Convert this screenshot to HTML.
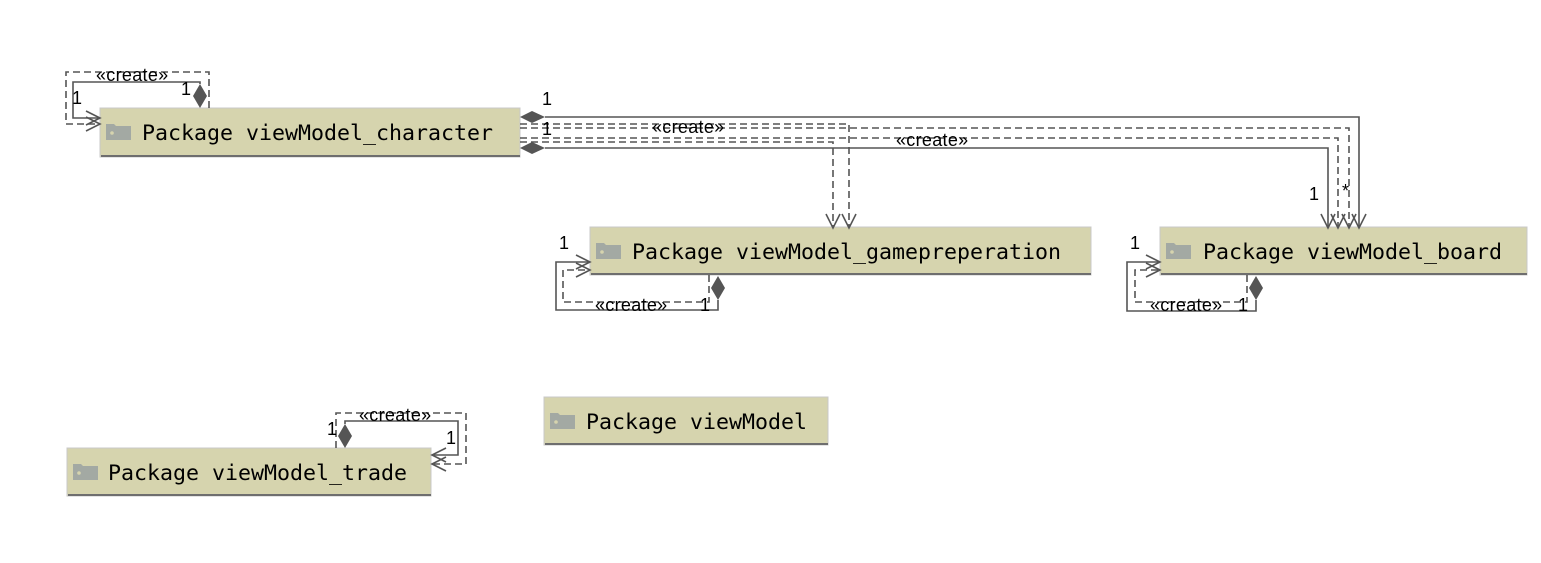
<!DOCTYPE html>
<html><head><meta charset="utf-8"><style>
html,body{margin:0;padding:0;background:#fff;}
svg{display:block;}
.b{fill:#d6d4ae;stroke:#c8c8c8;stroke-width:1;}
.sh{fill:#6e6e6e;}
.t{font-family:"DejaVu Sans Mono","Liberation Mono",monospace;font-size:21.6px;fill:#000;}
.l{font-family:"Liberation Sans",sans-serif;font-size:18px;fill:#000;letter-spacing:0.3px;}
.s{fill:none;stroke:#555;stroke-width:1.6;}
.d{fill:none;stroke:#555;stroke-width:1.6;stroke-dasharray:7,4;}
.a{fill:none;stroke:#555;stroke-width:1.6;}
.dm{fill:#555;}
</style></head><body>
<svg width="1541" height="563" viewBox="0 0 1541 563" xmlns="http://www.w3.org/2000/svg">
<defs>
<g id="fold"><path d="M0 2h8l2 2h15v14H0z" fill="#a3a9a3"/><circle cx="6" cy="11" r="1.8" fill="#d6d4ae"/></g>
</defs>
<g>
<rect class="b" x="100" y="108" width="420" height="49"/><rect class="sh" x="101" y="155" width="419" height="2"/>
<use href="#fold" x="106" y="122"/><text class="t" x="142" y="140">Package viewModel_character</text>

<rect class="b" x="590" y="227" width="501" height="48"/><rect class="sh" x="591" y="273" width="500" height="2"/>
<use href="#fold" x="596" y="241"/><text class="t" x="632" y="259">Package viewModel_gamepreperation</text>

<rect class="b" x="1160" y="227" width="367" height="48"/><rect class="sh" x="1161" y="273" width="366" height="2"/>
<use href="#fold" x="1166" y="241"/><text class="t" x="1203" y="259">Package viewModel_board</text>

<rect class="b" x="544" y="397" width="284" height="48"/><rect class="sh" x="545" y="443" width="283" height="2"/>
<use href="#fold" x="550" y="411"/><text class="t" x="586" y="429">Package viewModel</text>

<rect class="b" x="67" y="448" width="364" height="48"/><rect class="sh" x="68" y="494" width="363" height="2"/>
<use href="#fold" x="73" y="462"/><text class="t" x="108" y="480">Package viewModel_trade</text>
</g>

<path class="s" d="M200 84V82H73V118H100"/>
<path class="d" d="M209 108V72H66V124H100"/>
<path class="a" d="M86 111L100 118L86 125M86 117L100 124L86 131"/>
<path class="dm" d="M200 84L207 96L200 108L193 96z"/>
<text class="l" x="96" y="81">«create»</text>
<text class="l" x="72" y="104">1</text>
<text class="l" x="181" y="95">1</text>

<path class="s" d="M545 117H1359V228"/>
<path class="dm" d="M520 117L532 111L545 117L532 123z"/>
<path class="d" d="M520 124H849V228"/>
<path class="d" d="M520 128H1349V228"/>
<path class="d" d="M520 138H1338V228"/>
<path class="d" d="M520 142H833V228"/>
<path class="s" d="M545 148H1328V228"/>
<path class="dm" d="M520 148L532 142L545 148L532 154z"/>
<path class="a" d="M826 214L833 228L840 214M842 214L849 228L856 214"/>
<path class="a" d="M1321 214L1328 228L1335 214M1331 214L1338 228L1345 214M1342 214L1349 228L1356 214M1352 214L1359 228L1366 214"/>
<text class="l" x="652" y="133">«create»</text>
<text class="l" x="896" y="146">«create»</text>
<text class="l" x="542" y="105">1</text>
<text class="l" x="542" y="135">1</text>
<text class="l" x="1309" y="200">1</text>
<text class="l" x="1342" y="197">*</text>

<path class="s" d="M718 300V310H556V262H590"/>
<path class="d" d="M709 275V302H563V270H590"/>
<path class="a" d="M576 255L590 262L576 269M576 263L590 270L576 277"/>
<path class="dm" d="M718 276L725 288L718 300L711 288z"/>
<text class="l" x="595" y="311">«create»</text>
<text class="l" x="700" y="311">1</text>
<text class="l" x="559" y="249">1</text>

<path class="s" d="M1256 300V311H1127V262H1160"/>
<path class="d" d="M1247 275V302H1135V270H1160"/>
<path class="a" d="M1146 255L1160 262L1146 269M1146 263L1160 270L1146 277"/>
<path class="dm" d="M1256 276L1263 288L1256 300L1249 288z"/>
<text class="l" x="1150" y="311">«create»</text>
<text class="l" x="1238" y="311">1</text>
<text class="l" x="1130" y="249">1</text>

<path class="s" d="M345 424V421H458V455H432"/>
<path class="d" d="M336 448V413H466V464H432"/>
<path class="a" d="M446 448L432 455L446 462M446 457L432 464L446 471"/>
<path class="dm" d="M345 424L352 436L345 448L338 436z"/>
<text class="l" x="359" y="421">«create»</text>
<text class="l" x="327" y="435">1</text>
<text class="l" x="446" y="444">1</text>
</svg>
</body></html>
